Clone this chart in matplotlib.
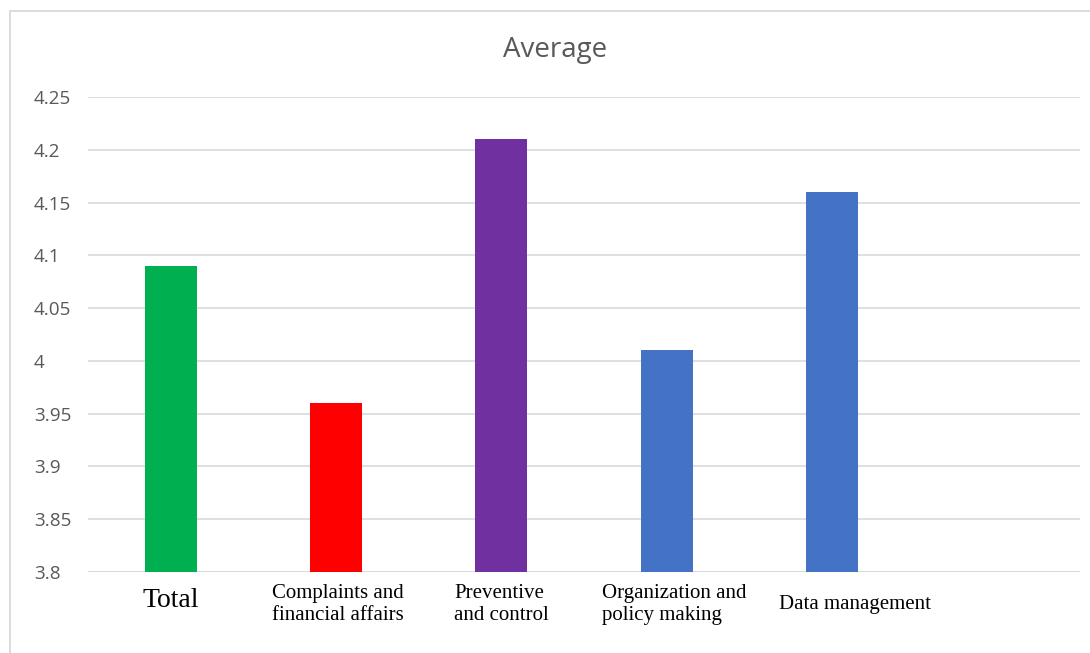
import matplotlib.pyplot as plt
from matplotlib.patches import Rectangle

# Data
categories = ["Total", "Complaints and\nfinancial affairs", "Preventive\nand control",
              "Organization and\npolicy making", "Data management"]
averages = [4.09, 3.96, 4.21, 4.01, 4.16]
bar_colors = ["#00B050", "#FF0000", "#7030A0", "#4472C4", "#4472C4"]
y_ticks = [3.8, 3.85, 3.9, 3.95, 4.0, 4.05, 4.1, 4.15, 4.2, 4.25]
y_tick_labels = ["3.8", "3.85", "3.9", "3.95", "4", "4.05", "4.1", "4.15", "4.2", "4.25"]
n_slots = 6  # the category axis has one empty slot at the end

GRID = "#D9D9D9"
TEXT_GRAY = "#595959"

fig = plt.figure(figsize=(10.9, 6.53), dpi=100)
ax = fig.add_axes([88 / 1090, 81 / 653, 992 / 1090, 475 / 653])

x = list(range(len(categories)))
ax.bar(x, averages, width=0.313, color=bar_colors, zorder=3)

ax.set_xlim(-0.5, n_slots - 0.5)
ax.set_ylim(3.8, 4.25)
ax.set_yticks(y_ticks)
ax.set_yticklabels(y_tick_labels, family="Open Sans", fontsize=13.6,
                   color=TEXT_GRAY, ha="left")
ax.tick_params(axis="y", length=0, pad=39)
ax.set_xticks([])
ax.grid(axis="y", color=GRID, linewidth=1.2, zorder=0)
ax.set_axisbelow(True)
for side in ["top", "right", "left", "bottom"]:
    ax.spines[side].set_visible(False)
ax.axhline(3.8, color=GRID, linewidth=1.4, zorder=2)

# category labels, placed like the hand-positioned text in the original
trans = ax.get_xaxis_transform()
label_nudge = [0.0, 0.01, 0.0, 0.045, 0.14]
for i, lab in enumerate(categories):
    if i == 0:
        ax.text(i, -0.059, lab, transform=trans, family="Liberation Serif",
                fontsize=20, ha="center", va="center")
    elif "\n" in lab:
        ax.text(i + label_nudge[i], -0.025, lab, transform=trans,
                family="Liberation Serif", fontsize=15, ha="center", va="top",
                multialignment="left", linespacing=1.2)
    else:
        ax.text(i + label_nudge[i], -0.069, lab, transform=trans,
                family="Liberation Serif", fontsize=15, ha="center", va="center")

fig.text(555 / 1090, 1 - 50 / 653, "Average", family="Open Sans", fontsize=20,
         color=TEXT_GRAY, ha="center", va="center")

# chart area border (runs off the right and bottom edge of the picture)
fig.patches.append(Rectangle((9.5 / 1090, -0.05), 1.1, 1.05 - 10.5 / 653,
                             transform=fig.transFigure, fill=False,
                             edgecolor=GRID, linewidth=1.3))

fig.savefig("out.png", dpi=100)
